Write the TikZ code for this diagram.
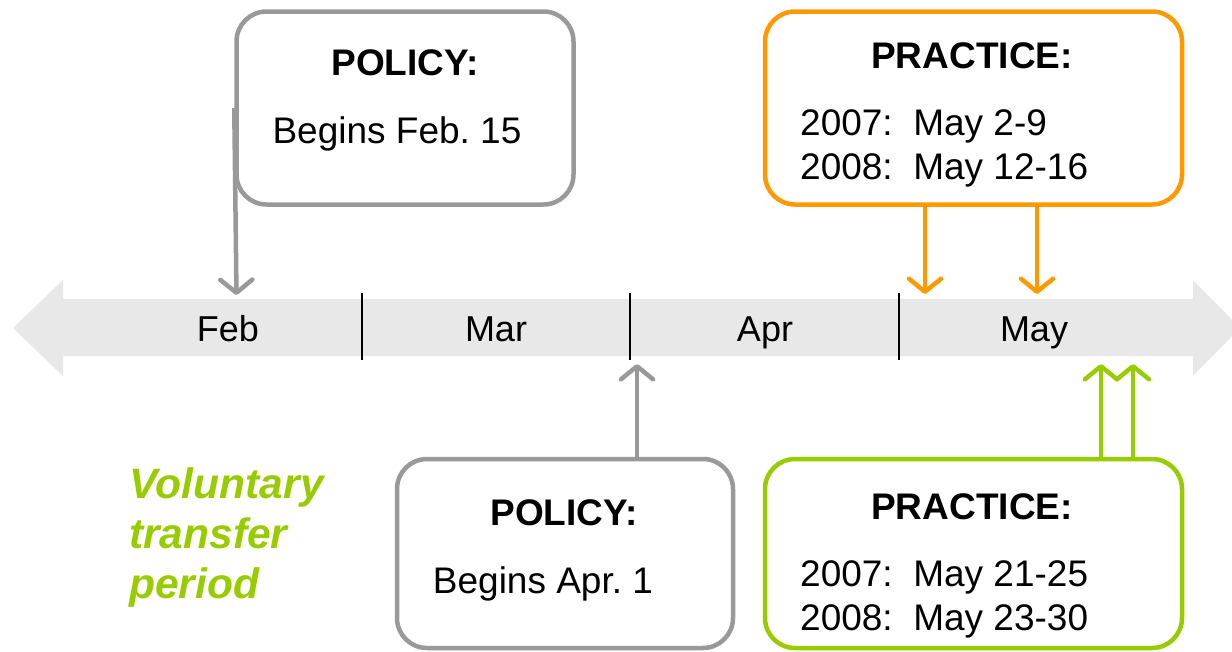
\documentclass[tikz,border=0pt]{standalone}
\usepackage{fontspec}
\setmainfont{Liberation Sans}
\usetikzlibrary{arrows.meta}
\frenchspacing
\definecolor{bandgray}{HTML}{E8E8E8}
\definecolor{boxgray}{HTML}{999999}
\definecolor{orng}{HTML}{FF9900}
\definecolor{lime}{HTML}{99CC00}
\begin{document}
\begin{tikzpicture}[x=1pt,y=-1pt,
  box/.style={draw, line width=4.5pt, rounded corners=30pt, fill=white, inner sep=0pt},
  title/.style={font=\fontsize{37pt}{44pt}\selectfont\bfseries, inner sep=0pt, anchor=base},
  body/.style={font=\fontsize{37pt}{44pt}\selectfont, inner sep=0pt, anchor=base},
  month/.style={font=\fontsize{36pt}{43pt}\selectfont, inner sep=0pt, anchor=base},
  conn/.style={line width=4.5pt, -{Straight Barb[length=13pt,width=32pt,round]}},
  sep/.style={line width=2pt, black}
]
\useasboundingbox (0,0) rectangle (1232,651);

% timeline band with a head at each end
\fill[bandgray] (13,328) -- (63,280) -- (63,299) -- (1193,299) -- (1193,280)
  -- (1240,328) -- (1193,376) -- (1193,356) -- (63,356) -- (63,376) -- cycle;
\draw[sep] (362,293) -- (362,360);
\draw[sep] (630,293) -- (630,360);
\draw[sep] (899,293) -- (899,360);

\node[month] (feb) at (228,341) {Feb};
\node[month] (mar) at (496,341) {Mar};
\node[month] (apr) at (765,341) {Apr};
\node[month] (may) at (1034,341) {May};

% points on the timeline that the connectors reach
\coordinate (tFeb) at (236.5,295);
\coordinate (tApr) at (637,364);
\coordinate (tO1) at (925,294);
\coordinate (tO2) at (1037,294);
\coordinate (tG1) at (1101,364);
\coordinate (tG2) at (1133,364);

% policy boxes
\node[box, draw=boxgray, minimum width=337pt, minimum height=193pt] (polF) at (405,108) {};
\node[box, draw=boxgray, minimum width=336pt, minimum height=189pt] (polA) at (565,553.5) {};
% practice boxes
\node[box, draw=orng, minimum width=417pt, minimum height=193pt] (prO) at (973.5,108) {};
\node[box, draw=lime, minimum width=417pt, minimum height=189pt] (prG) at (973.5,553.5) {};

% connectors
\draw[conn, boxgray] (polF.west) -- (tFeb);
\draw[conn, boxgray] ([xshift=72pt]polA.north) -- (tApr);
\draw[conn, orng] ([xshift=-48.5pt]prO.south) -- (tO1);
\draw[conn, orng] ([xshift=63.5pt]prO.south) -- (tO2);
\draw[conn, lime] ([xshift=127.5pt]prG.north) -- (tG1);
\draw[conn, lime] ([xshift=159.5pt]prG.north) -- (tG2);

% box texts
\node[title] (polFt) at (405,75) {POLICY:};
\node[body] (polFb) at (397,143) {Begins Feb. 15};
\node[title] (polAt) at (564,525) {POLICY:};
\node[body] (polAb) at (543,593) {Begins Apr. 1};

\node[title] (prOt) at (972,68) {PRACTICE:};
\node[body, anchor=base west] (prO1) at (800,135) {2007:\ \ May 2-9};
\node[body, anchor=base west] (prO2) at (800,179) {2008:\ \ May 12-16};

\node[title] (prGt) at (972,519) {PRACTICE:};
\node[body, anchor=base west] (prG1) at (800,586) {2007:\ \ May 21-25};
\node[body, anchor=base west] (prG2) at (800,630) {2008:\ \ May 23-30};

% side label
\node[inner sep=0pt, anchor=west, align=left, text=lime,
  font=\fontsize{42.5pt}{50pt}\selectfont\bfseries\itshape] (vol) at (129,538)
  {Voluntary\\transfer\\period};
\end{tikzpicture}
\end{document}
